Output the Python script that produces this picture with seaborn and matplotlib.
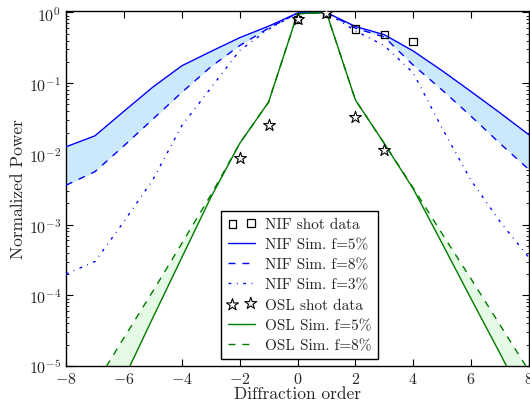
import numpy as np
import pandas as pd
import matplotlib
matplotlib.use("Agg")
import matplotlib.pyplot as plt
import seaborn as sns

# Diffraction orders
orders = [-8, -7, -6, -5, -4, -3, -2, -1, 0, 1, 2, 3, 4, 5, 6, 7, 8]

# NIF simulations
nif_f5 = [0.0126, 0.018, 0.040, 0.088, 0.176, 0.28, 0.44, 0.64, 0.98, 1.0,
          0.635, 0.485, 0.285, 0.150, 0.076, 0.038, 0.0186]
nif_f8 = [0.0036, 0.0056, 0.013, 0.031, 0.074, 0.17, 0.34, 0.60, 0.98, 1.0,
          0.60, 0.45, 0.18, 0.080, 0.034, 0.014, 0.0060]
nif_f3 = [0.00020, 0.00030, 0.0011, 0.0043, 0.025, 0.085, 0.29, 0.58, 0.98, 1.0,
          0.55, 0.34, 0.14, 0.023, 0.0042, 0.0011, 0.00034]

# OSL simulations
osl_f5 = [1.3e-7, 9e-7, 6.6e-6, 4.8e-5, 3.4e-4, 0.0024, 0.014, 0.054, 0.96, 1.0,
          0.058, 0.014, 0.0032, 5.4e-4, 8.9e-5, 1.5e-5, 2.4e-6]
osl_f8 = [1.15e-6, 5.4e-6, 2.5e-5, 1.14e-4, 5.4e-4, 0.0026, 0.014, 0.054, 0.96, 1.0,
          0.058, 0.014, 0.0033, 7.4e-4, 1.7e-4, 3.8e-5, 8.5e-6]

# Measured shot data
nif_orders = [0, 1, 2, 3, 4]
nif_shot = [0.80, 0.98, 0.58, 0.49, 0.39]
osl_orders = [-2, -1, 0, 1, 2, 3]
osl_shot = [0.0088, 0.026, 0.80, 0.98, 0.033, 0.0114]

sns.set_style("ticks")
plt.rcParams["font.family"] = ["cmr10", "DejaVu Serif"]
plt.rcParams["mathtext.fontset"] = "cm"
plt.rcParams["axes.formatter.use_mathtext"] = True
plt.rcParams["axes.unicode_minus"] = True

sim = pd.DataFrame({"order": orders, "nif_f5": nif_f5, "nif_f8": nif_f8,
                    "nif_f3": nif_f3, "osl_f5": osl_f5, "osl_f8": osl_f8})
nif = pd.DataFrame({"order": nif_orders, "power": nif_shot})
osl = pd.DataFrame({"order": osl_orders, "power": osl_shot})

fig = plt.figure(figsize=(5.30, 4.02), dpi=100)
ax = fig.add_axes([66 / 530, 1 - 367 / 402, 463 / 530, 355 / 402])

blue = "#0000ff"
green = "#007a00"

ax.fill_between(sim["order"], sim["nif_f8"], sim["nif_f5"], color="#cce8fb", lw=0, zorder=1)
ax.fill_between(sim["order"], sim["osl_f8"], sim["osl_f5"], color="#e4fae4", lw=0, zorder=1)

sns.scatterplot(data=nif, x="order", y="power", ax=ax, marker="s", s=30,
                facecolor="none", edgecolor="black", linewidth=0.9,
                label="NIF shot data", zorder=5)
sns.lineplot(data=sim, x="order", y="nif_f5", ax=ax, color=blue, lw=1.0,
             label="NIF Sim. f=5%", zorder=3)
sns.lineplot(data=sim, x="order", y="nif_f8", ax=ax, color=blue, lw=1.0,
             dashes=(5, 5), label="NIF Sim. f=8%", zorder=3)
sns.lineplot(data=sim, x="order", y="nif_f3", ax=ax, color=blue, lw=1.0,
             dashes=(2, 4, 0.6, 4), label="NIF Sim. f=3%", zorder=3)
sns.scatterplot(data=osl, x="order", y="power", ax=ax, marker="*", s=80,
                facecolor="white", edgecolor="black", linewidth=0.8,
                label="OSL shot data", zorder=6)
sns.lineplot(data=sim, x="order", y="osl_f5", ax=ax, color=green, lw=1.0,
             label="OSL Sim. f=5%", zorder=3)
sns.lineplot(data=sim, x="order", y="osl_f8", ax=ax, color=green, lw=1.0,
             dashes=(5, 5), label="OSL Sim. f=8%", zorder=3)

ax.set_yscale("log")
ax.set_xlim(-8, 8)
ax.set_ylim(1e-5, 1.05)
ax.set_xticks(np.arange(-8, 9, 2))
ax.set_xlabel("Diffraction order", fontsize=12.5, labelpad=0)
ax.set_ylabel("Normalized Power", fontsize=12.5, labelpad=2)
ax.tick_params(axis="both", which="both", direction="in", top=True, right=True,
               labelsize=11.5, color="black")
ax.tick_params(which="major", length=5)
ax.tick_params(which="minor", length=2.5)
for sp in ax.spines.values():
    sp.set_color("black")
    sp.set_linewidth(1.0)

leg = ax.legend(loc="lower left", bbox_to_anchor=((221 - 66) / 463, (367 - 360) / 355),
                fontsize=11, frameon=True, fancybox=False, edgecolor="black",
                framealpha=1, scatterpoints=2, handlelength=1.8, handletextpad=0.6,
                borderpad=0.45, labelspacing=0.42, borderaxespad=0)
leg.get_frame().set_linewidth(1.0)

fig.savefig("out.png", dpi=100)
